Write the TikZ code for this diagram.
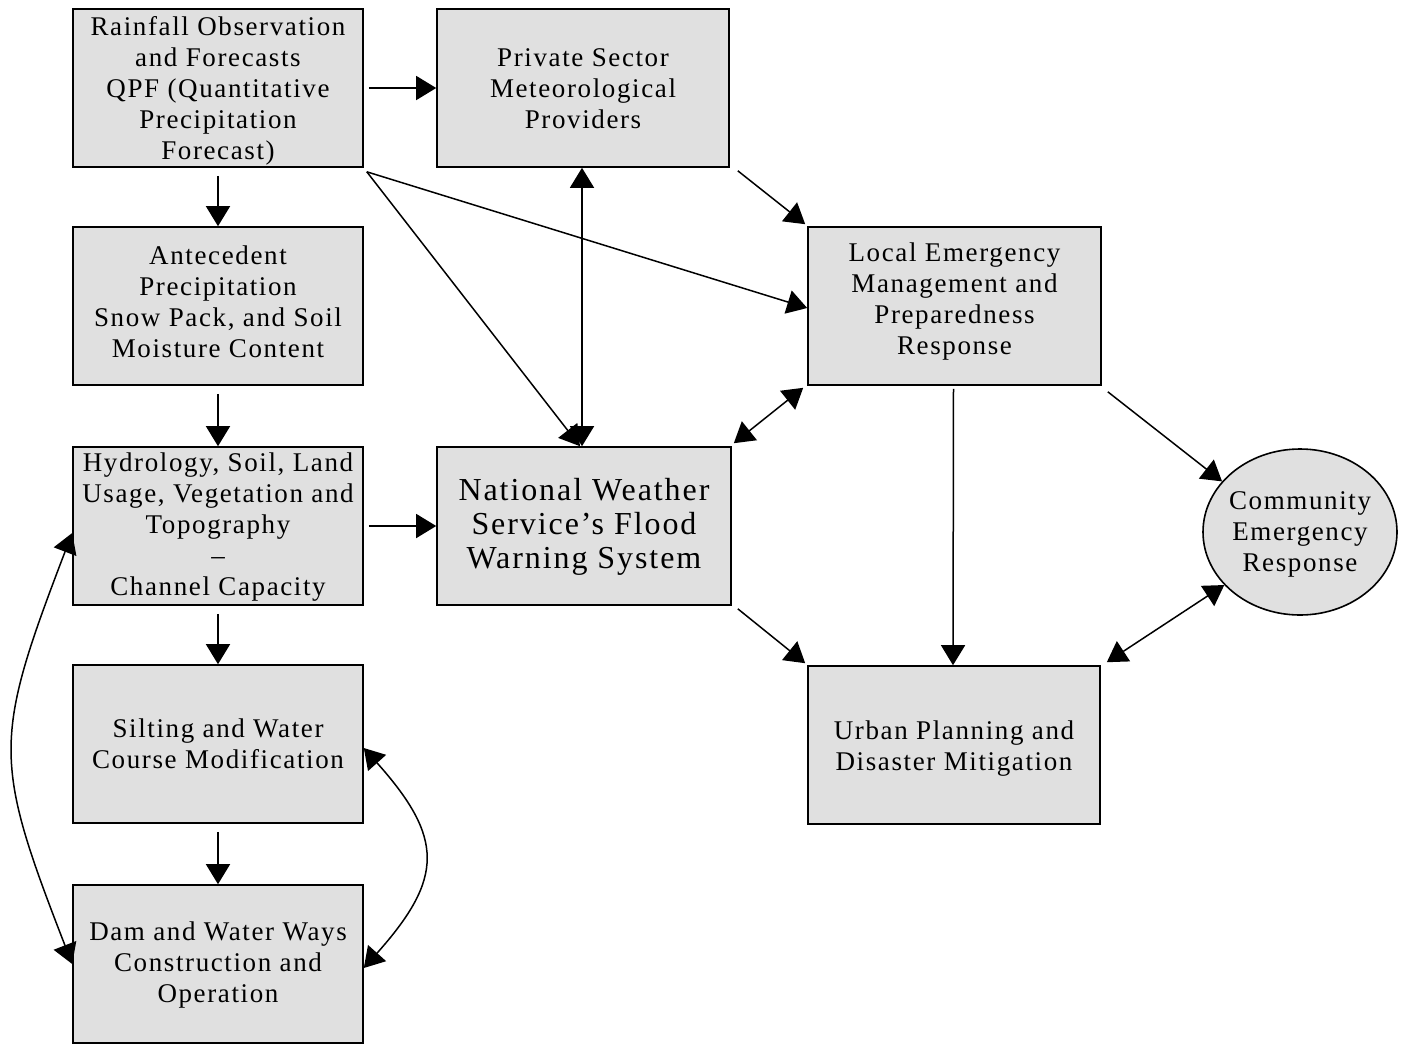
\documentclass[tikz,border=0pt]{standalone}
\usepackage{fontspec}
\setmainfont{Liberation Serif}[LetterSpace=6]
\usetikzlibrary{arrows.meta,shapes.geometric}
\definecolor{boxfill}{RGB}{224,224,224}
\tikzset{
  box/.style={draw=black, line width=0.8pt, fill=boxfill, minimum width=145pt, minimum height=79pt, inner sep=0pt},
  oval/.style={draw=black, line width=0.8pt, fill=boxfill, ellipse, minimum width=97pt, minimum height=83pt, inner sep=0pt},
  txt/.style={inner sep=0pt, align=center, font=\fontsize{13.5pt}{15.5pt}\selectfont},
  bigtxt/.style={txt, font=\fontsize{16pt}{17pt}\selectfont},
  conn/.style={line width=0.75pt, -{Triangle[length=10pt,width=12pt]}},
  bconn/.style={line width=0.75pt, {Triangle[length=10pt,width=12pt]}-{Triangle[length=10pt,width=12pt]}},
  gap/.style={shorten <=#1}
}
\begin{document}
\begin{tikzpicture}[x=0.5pt,y=-0.5pt]
\useasboundingbox (0,0) rectangle (1403,1045);
% shapes
\node[box] (rain) at (218,88) {};
\node[box, minimum width=146pt] (priv) at (583,88) {};
\node[box] (ante) at (218,306) {};
\node[box, minimum width=146.5pt] (local) at (954.5,306) {};
\node[box] (hydro) at (218,526) {};
\node[box, minimum width=147pt] (nws) at (584,526) {};
\node[oval] (comm) at (1300,532) {};
\node[box] (silt) at (218,744) {};
\node[box, minimum width=146pt] (urban) at (954,745) {};
\node[box] (dam) at (218,964) {};

% texts
\node[txt] (rain-t) at ([yshift=-1.5pt]rain.center) {Rainfall Observation\\and Forecasts\\QPF (Quantitative\\Precipitation\\Forecast)};
\node[txt] (priv-t) at ([yshift=-0.5pt]priv.center) {Private Sector\\Meteorological\\Providers};
\node[txt] (ante-t) at ([yshift=2pt]ante.center) {Antecedent\\Precipitation\\Snow Pack, and Soil\\Moisture Content};
\node[txt] (local-t) at ([yshift=2.5pt]local.center) {Local Emergency\\Management and\\Preparedness\\Response};
\node[txt] (hydro-t) at ([yshift=-0.5pt]hydro.center) {Hydrology, Soil, Land\\Usage, Vegetation and\\Topography\\–\\Channel Capacity};
\node[bigtxt] (nws-t) at ([yshift=-0.5pt]nws.center) {National Weather\\Service’s Flood\\Warning System};
\node[txt] (comm-t) at ([yshift=-1.2pt]comm.center) {Community\\Emergency\\Response};
\node[txt] (silt-t) at (silt.center) {Silting and Water\\Course Modification};
\node[txt] (urban-t) at ([yshift=-2pt]urban.center) {Urban Planning and\\Disaster Mitigation};
\node[txt] (dam-t) at ([yshift=-0.5pt]dam.center) {Dam and Water Ways\\Construction and\\Operation};

% vertical chain on the left
\draw[conn, gap=4pt] (rain.south) -- (ante.north);
\draw[conn, gap=4pt] (ante.south) -- (hydro.north);
\draw[conn, gap=4pt] (hydro.south) -- (silt.north);
\draw[conn, gap=4pt] (silt.south) -- (dam.north);

% horizontal
\draw[conn, gap=2.5pt] (rain.east) -- (priv.west);
\draw[conn, gap=2.5pt] (hydro.east) -- (nws.west);

% diagonals from rainfall
\draw[conn] ([shift={(3,4)}]rain.south east) -- ([yshift=-1pt]local.west);
\draw[conn] ([shift={(3,4)}]rain.south east) -- ([xshift=-2pt]nws.north);

% private <-> nws
\draw[bconn] ([xshift=-0.5pt]priv.south) -- ([xshift=-1pt]nws.north);

% private -> local
\draw[conn] ([shift={(8,3)}]priv.south east) -- ([shift={(-2,-2)}]local.north west);

% nws <-> local
\draw[bconn] ([shift={(2,-3)}]nws.north east) -- ([shift={(-4,2)}]local.south west);

% local -> urban
\draw[conn, gap=1.5pt] ([xshift=-0.5pt]local.south) -- ([xshift=-0.5pt]urban.north);

% local -> community
\draw[conn] ([shift={(6,6)}]local.south east) -- (comm.147);

% nws -> urban
\draw[conn] ([shift={(6,3)}]nws.south east) -- ([shift={(-2,-2)}]urban.north west);

% community <-> urban
\draw[bconn] (comm.215) -- ([shift={(6,-3)}]urban.north east);

% curved double arrows
\draw[bconn] ([yshift=-3.5pt]hydro.west) .. controls (-7,740) and (-7,760) .. (dam.west);
\draw[bconn] ([yshift=-2pt]silt.east) .. controls (444,838) and (444,878) .. ([yshift=-2pt]dam.east);
\end{tikzpicture}
\end{document}
